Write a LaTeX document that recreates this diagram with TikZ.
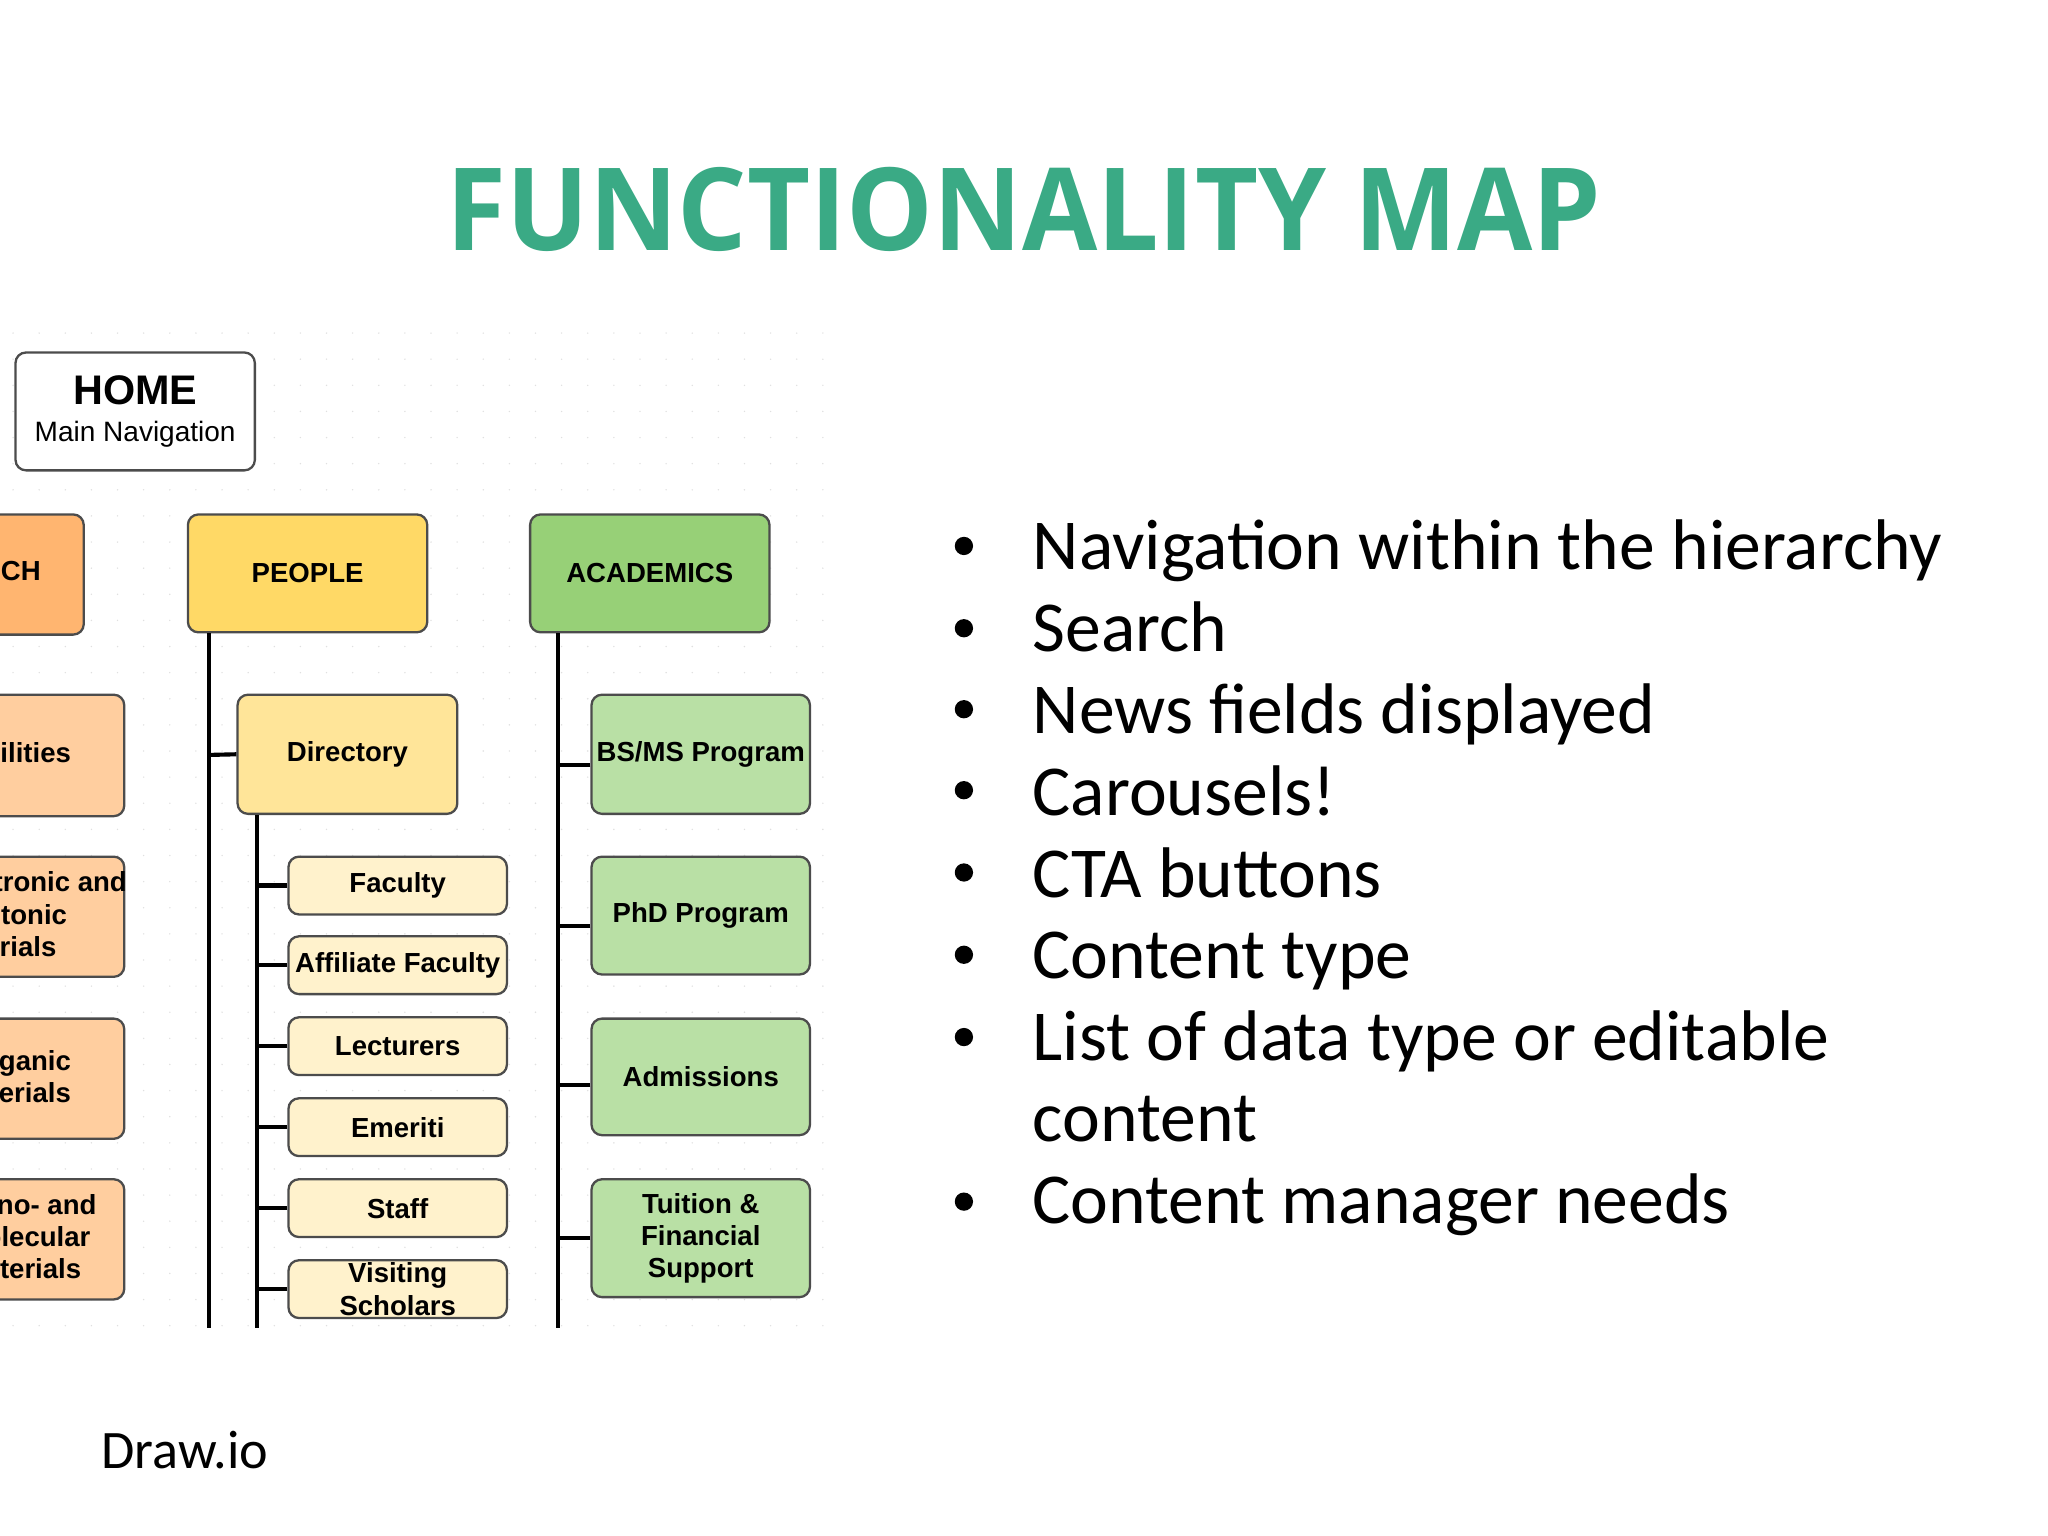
\documentclass[tikz,border=0pt]{standalone}
\usepackage{fontspec}
\setmainfont{Carlito}
\newfontfamily\dia{Liberation Sans}
\newfontfamily\ttl[FakeStretch=0.95]{Open Sans}
\definecolor{teal}{HTML}{3AAA85}
\definecolor{orA}{HTML}{FFB570}
\definecolor{orB}{HTML}{FFCE9F}
\definecolor{yeA}{HTML}{FFD966}
\definecolor{yeB}{HTML}{FFE599}
\definecolor{yeC}{HTML}{FFF2CC}
\definecolor{grA}{HTML}{97D077}
\definecolor{grB}{HTML}{B9E0A5}
\tikzset{
 box/.style={draw=black!70,line width=0.5pt,rounded corners=0.08cm,inner sep=0pt,align=center,font=\dia\bfseries\fontsize{6}{7}\selectfont},
 lbl/.style={font=\dia\bfseries\fontsize{6}{7}\selectfont,inner sep=0},
 ln/.style={line width=0.9pt,black},
 bul/.style={anchor=base west,inner sep=0,font=\fontsize{15.6}{18}\selectfont}
}
\newcommand{\bx}[6]{\node[box,fill=#5,minimum width=#3*0.01cm-0.5pt,minimum height=#4*0.01cm-0.5pt,anchor=north west] (#1) at (#2) {#6};}
\begin{document}
\begin{tikzpicture}[x=0.01cm,y=-0.01cm]
\useasboundingbox[fill=white] (0,0) rectangle (1568,1176);
\node[text=teal,font=\ttl\bfseries\fontsize{25}{28}\selectfont] (title) at (784,160) {FUNCTIONALITY MAP};
\begin{scope}
\clip (0,250) rectangle (640,1030);
\foreach \x in {10,30,...,640} \foreach \y in {255,275,...,1015} \fill[black!12] (\x,\y) circle (0.6);
\bx{home}{11,269}{185}{92}{white}{\fontsize{9}{10}\selectfont HOME\\[1pt]\mdseries\fontsize{6.1}{7}\selectfont Main Navigation}
\node[box,fill=orA,minimum width=185*0.01cm,minimum height=92*0.01cm,anchor=north east] (ch) at (65,393) {};
\node[lbl,anchor=west] (cht) at (0,437) {CH};
\bx{people}{143,393}{185}{92}{yeA}{PEOPLE}
\bx{acad}{405,393}{185}{92}{grA}{ACADEMICS}
\node[box,fill=orB,minimum width=206*0.01cm,minimum height=93*0.01cm,anchor=north east] (f1) at (96,531) {};
\node[lbl,anchor=east] (f1t) at (55,576) {Facilities};
\node[box,fill=orB,minimum width=206*0.01cm,minimum height=92*0.01cm,anchor=north east] (f2) at (96,655) {};
\node[lbl,align=left,anchor=west] (f2t) at (-49,700) {Electronic and\\Optotonic\\Materials};
\node[box,fill=orB,minimum width=206*0.01cm,minimum height=92*0.01cm,anchor=north east] (f3) at (96,779) {};
\node[lbl,align=right,anchor=east] (f3t) at (55,824) {Organic\\Materials};
\node[box,fill=orB,minimum width=206*0.01cm,minimum height=92*0.01cm,anchor=north east] (f4) at (96,902) {};
\node[lbl,align=left,anchor=west] (f4t) at (-30,947) {Nano- and\\Molecular\\Materials};
\end{scope}
\draw[ln] (160,485) -- (160,1017);
\bx{dir}{181,531}{170}{93}{yeB}{Directory}
\draw[ln] (160,578) -- (dir.west);
\draw[ln] (197,624) -- (197,1017);
\bx{fac}{220,655}{169}{46}{yeC}{Faculty}
\bx{aff}{220,716}{169}{46}{yeC}{Affiliate Faculty}
\bx{lec}{220,778}{169}{46}{yeC}{Lecturers}
\bx{eme}{220,840}{169}{46}{yeC}{Emeriti}
\bx{sta}{220,902}{169}{46}{yeC}{Staff}
\bx{vis}{220,964}{169}{46}{yeC}{Visiting\\Scholars}
\foreach \n in {fac,aff,lec,eme,sta,vis} \draw[ln] (\n.west) -- ++(-23,0);
\draw[ln] (427,485) -- (427,1017);
\bx{bsms}{452,531}{169}{93}{grB}{BS/MS Program}
\bx{phd}{452,655}{169}{92}{grB}{PhD Program}
\bx{adm}{452,779}{169}{91}{grB}{Admissions}
\bx{tui}{452,902}{169}{92}{grB}{Tuition \&\\Financial\\Support}
\foreach \n/\d in {bsms/8,phd/8,adm/6,tui/0} \draw[ln] ([yshift=-\d*0.01cm]\n.west) -- ++(-25,0);
\foreach \t [count=\i] in {Navigation within the hierarchy,Search,News fields displayed,Carousels!,CTA buttons,Content type,List of data type or editable}
  \node[bul] (b\i) at (790,436+62.7*\i-62.7) {\t};
\node[bul] (b8) at (790,874) {content};
\node[bul] (b9) at (790,937) {Content manager needs};
\foreach \y in {418,481,543,605,668,731,794,920} \fill (738,\y) circle (7);
\node[anchor=base west,inner sep=0,font=\fontsize{11.8}{14}\selectfont] (dio) at (77,1124) {Draw.io};
\end{tikzpicture}
\end{document}
